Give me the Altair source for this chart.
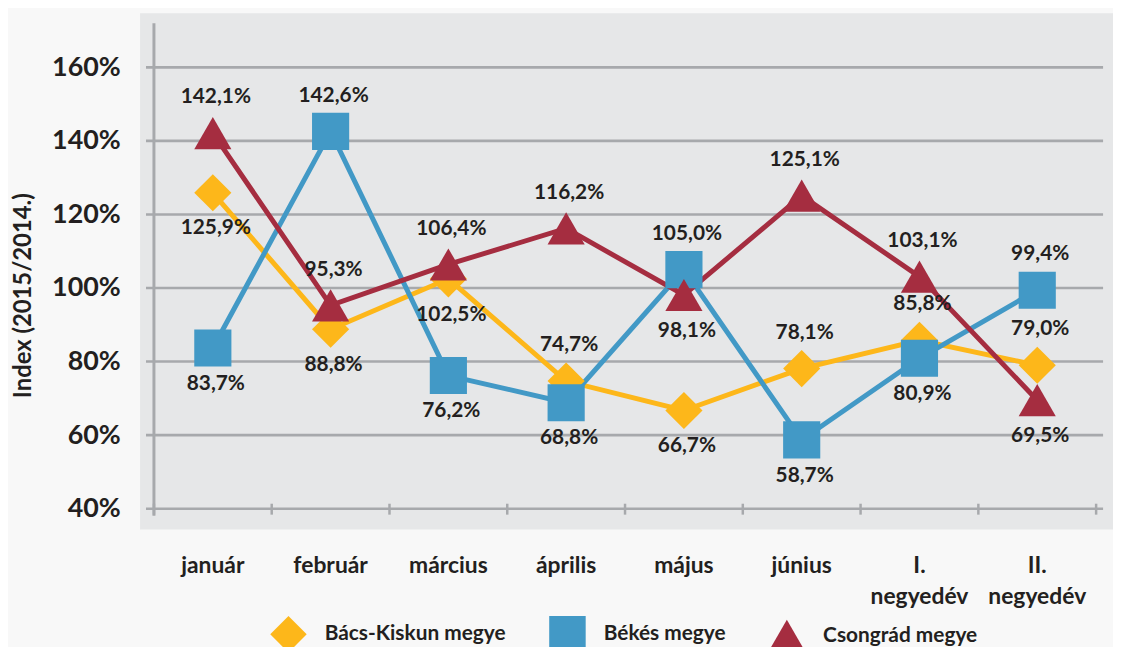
import altair as alt
import pandas as pd

categories = ["január", "február", "március", "április", "május", "június",
              "I. negyedév", "II. negyedév"]
series_names = ["Bács-Kiskun megye", "Békés megye", "Csongrád megye"]
bacs = [125.9, 88.8, 102.5, 74.7, 66.7, 78.1, 85.8, 79.0]
bekes = [83.7, 142.6, 76.2, 68.8, 105.0, 58.7, 80.9, 99.4]
csongrad = [142.1, 95.3, 106.4, 116.2, 98.1, 125.1, 103.1, 69.5]
y_ticks = [40, 60, 80, 100, 120, 140, 160]

# label placement (style only): 1 = below the marker, -1 = above
bacs_side = [1, 1, 1, -1, 1, -1, -1, -1]
bekes_side = [1, -1, 1, 1, -1, 1, 1, -1]
csongrad_side = [-1, -1, -1, -1, 1, -1, -1, 1]

colors = ["#FDB71A", "#4299C6", "#A52D40"]
shapes = ["diamond", "square", "triangle-up"]

rows = []
for name, vals, sides in zip(series_names, [bacs, bekes, csongrad],
                             [bacs_side, bekes_side, csongrad_side]):
    for c, v, s in zip(categories, vals, sides):
        rows.append({"cat": c, "series": name, "value": v, "side": s,
                     "label": f"{v:.1f}".replace(".", ",") + "%"})
df = pd.DataFrame(rows)
cat_df = pd.DataFrame({"cat": categories})
grid_df = pd.DataFrame({"tick": y_ticks})
one_df = pd.DataFrame({"a": [0]})

W, H = 949, 489
FONT = "Lato"
TEXT = "#231F20"
GRID = "#A7A9AC"

y_scale = alt.Scale(domain=[40, 172], nice=False, zero=False)
x_scale = alt.Scale(type="band", paddingInner=0, paddingOuter=0, domain=categories)

y_axis = alt.Axis(values=y_ticks, domain=False, grid=False, ticks=False,
                  labelPadding=34, labelExpr="datum.value + '%'",
                  labelFont=FONT, labelFontSize=27, labelFontWeight="bold",
                  labelColor=TEXT, title="Index (2015/2014.)",
                  titleFont=FONT, titleFontSize=24, titleFontWeight="bold",
                  titleColor=TEXT, titleX=-131, titleY=274,
                  titleAlign="center", titleBaseline="middle", titleAngle=-90)

x_enc = alt.X("cat:N", sort=categories, scale=x_scale, axis=None)
y_enc = alt.Y("value:Q", scale=y_scale, axis=y_axis)

color_scale = alt.Scale(domain=series_names, range=colors)
shape_scale = alt.Scale(domain=series_names, range=shapes)

legend = alt.Legend(title=None, orient="none", legendX=117, legendY=597,
                    direction="horizontal", symbolSize=1350,
                    symbolStrokeWidth=0, labelFont=FONT, labelFontSize=21,
                    labelFontWeight="bold", labelColor=TEXT, labelOffset=18,
                    labelLimit=0, columnPadding=43)

color_enc = alt.Color("series:N", scale=color_scale, legend=legend)

panel = alt.Chart(one_df).mark_rect(color="#E6E7E8").encode(
    x=alt.value(-14), x2=alt.value(W + 17),
    y=alt.value(-10), y2=alt.value(H + 21))

grid = alt.Chart(grid_df).mark_rule(color=GRID, strokeWidth=2.6).encode(
    y=alt.Y("tick:Q", scale=y_scale, axis=y_axis),
    x=alt.value(-8), x2=alt.value(W + 7))

yaxis_line = alt.Chart(one_df).mark_rule(color=GRID, strokeWidth=3).encode(
    x=alt.value(0), y=alt.value(0), y2=alt.value(H + 7))

# x-axis ticks at category boundaries
xticks = alt.Chart(cat_df).mark_rule(color=GRID, strokeWidth=2.5).encode(
    x=alt.X("cat:N", sort=categories, scale=x_scale, axis=None, bandPosition=0),
    y=alt.value(H - 5), y2=alt.value(H + 6))
xtick_end = alt.Chart(one_df).mark_rule(color=GRID, strokeWidth=2.5).encode(
    x=alt.value(W), y=alt.value(H - 5), y2=alt.value(H + 6))

# x-axis category labels (multi-line where there is a space)
xlabels = alt.Chart(cat_df).mark_text(
    font=FONT, fontSize=23, fontWeight="bold", color=TEXT, baseline="top",
    align="center", lineBreak=" ", lineHeight=31).encode(
    x=x_enc, y=alt.value(H + 47), text="cat:N")

lines = alt.Chart(df).mark_line(strokeWidth=5).encode(
    x=x_enc, y=y_enc, color=color_enc, detail="series:N")

points = alt.Chart(df).mark_point(filled=True, size=1400, opacity=1).encode(
    x=x_enc, y=y_enc, color=color_enc,
    shape=alt.Shape("series:N", scale=shape_scale, legend=legend))

text_style = dict(font=FONT, fontSize=21, fontWeight="bold", color=TEXT,
                  baseline="middle", align="center", dx=3)
labels_above = alt.Chart(df).transform_filter("datum.side < 0").mark_text(
    dy=-36, **text_style).encode(x=x_enc, y=y_enc, text="label:N")
labels_below = alt.Chart(df).transform_filter("datum.side > 0").mark_text(
    dy=36, **text_style).encode(x=x_enc, y=y_enc, text="label:N")

chart = alt.layer(panel, grid, yaxis_line, xticks, xtick_end, xlabels,
                  lines, points, labels_above, labels_below).properties(
    width=W, height=H,
    padding={"left": 147, "top": 13, "right": 17, "bottom": 137},
    autosize=alt.AutoSizeParams(type="none"),
    background="#F8F8F8",
).configure_view(stroke=None, fill=None)

chart.save("out.html", embed_options={"renderer": "svg", "actions": False})
